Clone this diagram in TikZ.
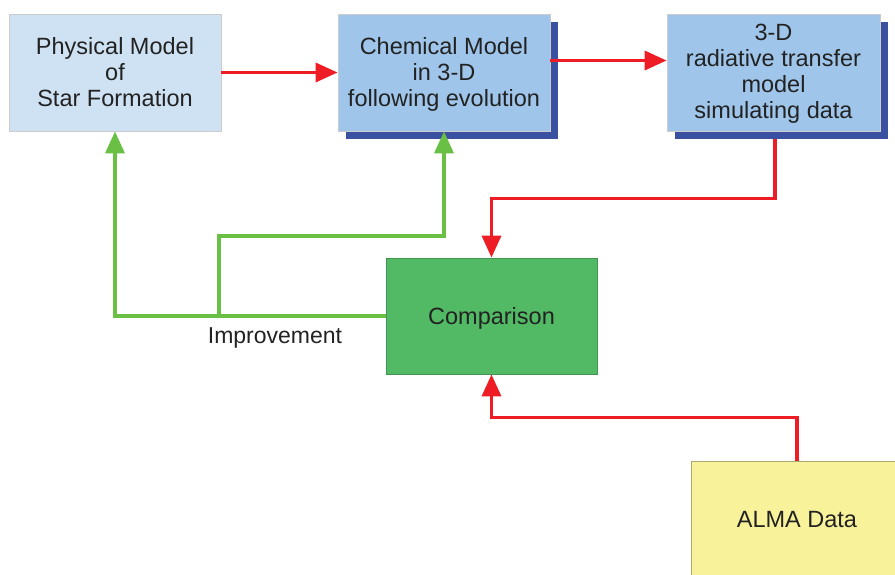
\documentclass[tikz,border=0pt]{standalone}
\usepackage{fontspec}
\setmainfont{Liberation Sans}
\usetikzlibrary{arrows.meta,shadows}
\definecolor{physfill}{HTML}{CFE2F3}
\definecolor{chemfill}{HTML}{9FC6EA}
\definecolor{shadowblue}{HTML}{3A50A0}
\definecolor{compfill}{HTML}{52B964}
\definecolor{almafill}{HTML}{F8F29A}
\definecolor{arrowred}{HTML}{EE1C24}
\definecolor{arrowgreen}{HTML}{6ABF45}
\definecolor{textgray}{HTML}{222222}
\tikzset{
  box/.style={draw=gray!40,line width=0.8pt,minimum width=212pt,minimum height=117pt,
    align=center,text=textgray,font=\fontsize{23.5}{26}\selectfont},
  shadowbox/.style={box,fill=chemfill,
    drop shadow={shadow xshift=8pt,shadow yshift=-8pt,fill=shadowblue,opacity=1}},
  redarrow/.style={draw=arrowred,line width=3.5pt,-{Triangle[length=22pt,width=19pt]}},
  greenarrow/.style={draw=arrowgreen,line width=3.5pt,-{Triangle[length=22pt,width=19pt]}},
}

\begin{document}
\begin{tikzpicture}[x=1pt,y=-1pt]
    \useasboundingbox (0,0) rectangle (895,574);
    \begin{scope}
      % boxes
      \node[box,fill=physfill,text depth=2pt] (phys) at (115,72.5) {Physical Model\\of\\Star Formation};
      \node[shadowbox,text depth=2pt] (chem) at (444,72.5) {Chemical Model\\in 3-D\\following evolution};
      \node[shadowbox,minimum width=213pt,text depth=3pt] (rad) at (773.5,72.5) {3-D\\radiative transfer\\model\\simulating data};
      \node[box,fill=compfill,draw=compfill!80!black,minimum width=211pt,minimum height=116pt,text depth=0pt] (comp) at (491.5,316) {Comparison};
      \node[box,fill=almafill,draw=almafill!70!black,text depth=0pt] (alma) at (797,519.5) {ALMA Data};
      % forward arrows
      \draw[redarrow](phys.east)--(chem.west);
      \draw[redarrow]([yshift=12pt]chem.east)--([yshift=12pt]rad.west);
      \draw[redarrow]([shift={(1.5,8)}]rad.south)--++(0,59)-|(comp.north);
      \draw[redarrow](alma.north)--++(0,-43)-|(comp.south);
      % feedback
      \coordinate (imp) at (219,316);
      \draw[greenarrow](comp.west)-|(phys.south);
      \draw[greenarrow](imp)--++(0,-80)-|(chem.south);
      \node[text=textgray,font=\fontsize{23}{26}\selectfont] (improve) at (275,338) {Improvement};
    \end{scope}
  \end{tikzpicture}
\end{document}
